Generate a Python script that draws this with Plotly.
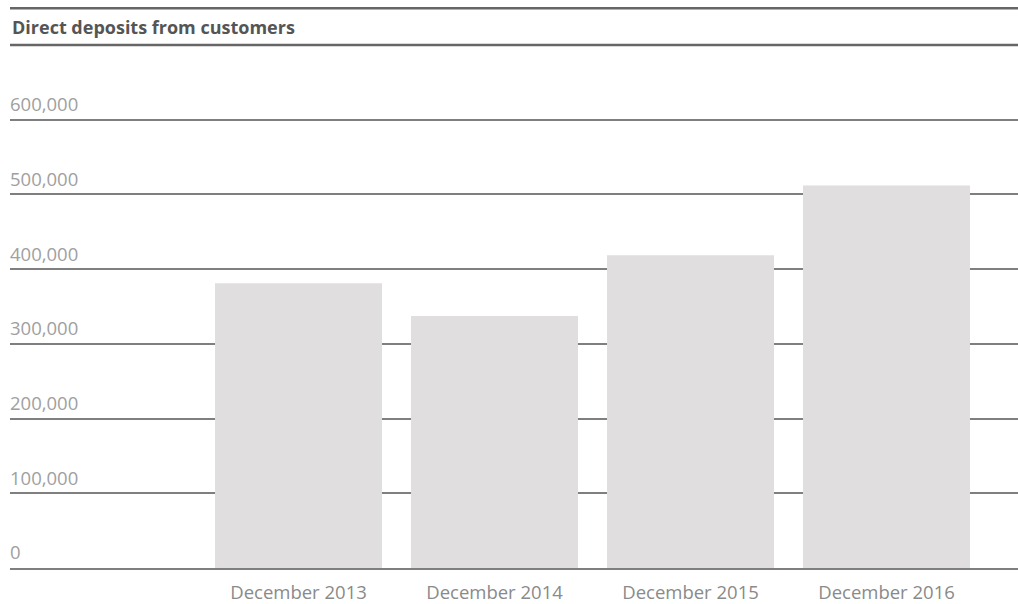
import plotly.graph_objects as go

categories = ["December 2013", "December 2014", "December 2015", "December 2016"]
deposits = [381300, 337300, 418700, 512000]
tick_values = [0, 100000, 200000, 300000, 400000, 500000, 600000]
tick_labels = ["0", "100,000", "200,000", "300,000", "400,000", "500,000", "600,000"]
title_text = "Direct deposits from customers"

fig = go.Figure()
fig.add_trace(go.Bar(
    x=categories, y=deposits,
    marker=dict(color="#e0dedf", line=dict(width=0)),
    hoverinfo="x+y",
))

line_col = "#7f7f7f"
fig.update_layout(
    width=1018, height=604,
    margin=dict(l=10, r=0, t=60, b=34, pad=0),
    paper_bgcolor="white", plot_bgcolor="white",
    showlegend=False,
    bargap=0.148,
    font=dict(family="Open Sans", size=17, color="#999999"),
    xaxis=dict(
        type="category",
        range=[-1.472, 3.671],
        showgrid=False,
        showline=True, linecolor=line_col, linewidth=1.5,
        ticks="", ticklabelstandoff=7,
        tickfont=dict(family="Open Sans", size=18.5, color="#8a8a8a"),
        fixedrange=True,
    ),
    yaxis=dict(
        range=[0, 680000],
        tickvals=tick_values, ticktext=tick_labels,
        showgrid=True, gridcolor=line_col, gridwidth=1.5,
        zeroline=False, showline=False,
        layer="above traces",
        ticklabelposition="inside",
        ticklabelshift=-15,
        ticklabelstandoff=-3,
        tickfont=dict(family="Open Sans", size=18.5, color="#a0a0a0"),
        fixedrange=True,
    ),
    shapes=[
        dict(type="line", xref="paper", yref="paper", x0=0, x1=1,
             y0=1.102, y1=1.102, line=dict(color="#666666", width=2.5)),
        dict(type="line", xref="paper", yref="paper", x0=0, x1=1,
             y0=1.0294, y1=1.0294, line=dict(color="#666666", width=2.5)),
    ],
    annotations=[
        dict(text="<b>" + title_text + "</b>", xref="paper", yref="paper",
             x=0, y=1.0647, xanchor="left", yanchor="middle", showarrow=False,
             font=dict(family="Open Sans", size=18, color="#555555")),
    ],
)

fig.write_html("out.html")
